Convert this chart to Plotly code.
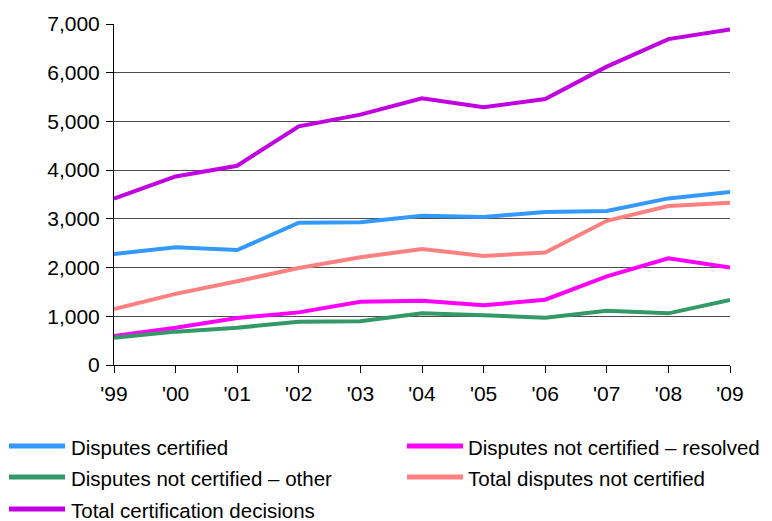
"""Certification decisions line chart."""

import plotly.graph_objects as go

years = ["'99", "'00", "'01", "'02", "'03", "'04", "'05", "'06", "'07", "'08", "'09"]

disputes_certified = [2280, 2415, 2360, 2920, 2930, 3065, 3040, 3140, 3160, 3420, 3550]
not_certified_resolved = [595, 765, 965, 1080, 1300, 1320, 1225, 1340, 1820, 2190, 2000]
not_certified_other = [560, 685, 765, 890, 900, 1060, 1020, 970, 1115, 1060, 1335]
total_not_certified = [1150, 1460, 1720, 1990, 2210, 2380, 2240, 2310, 2960, 3265, 3330]
total_decisions = [3414, 3870, 4090, 4900, 5140, 5475, 5290, 5460, 6125, 6690, 6890]

series = [
    ("Disputes certified", disputes_certified, "#3399ff"),
    ("Disputes not certified \u2013 resolved", not_certified_resolved, "#ff00ff"),
    ("Disputes not certified \u2013 other", not_certified_other, "#339966"),
    ("Total disputes not certified", total_not_certified, "#ff8080"),
    ("Total certification decisions", total_decisions, "#c000e0"),
]

# the page body keeps its 8px margin, so the figure is shrunk to fit the window
PAGE_PAD = 8
W, H = 772, 521
PLOT_L, PLOT_R, PLOT_T, PLOT_B = 114, 730, 24, 365


def px_x(x):
    return (x - PLOT_L) / (PLOT_R - PLOT_L)


def px_y(y):
    return (PLOT_B - y) / (PLOT_B - PLOT_T)


fig = go.Figure()
for name, values, color in series:
    fig.add_trace(go.Scatter(x=years, y=values, name=name, mode="lines",
                             line=dict(color=color, width=4), showlegend=False))

# legend drawn by hand: two columns, rows ~32px apart
legend_cols = [(9, 65, 69), (407, 463, 466)]
legend_rows = [446, 477, 509]
for i, (name, _, color) in enumerate(series):
    x0, x1, xt = legend_cols[i % 2]
    y = legend_rows[i // 2]
    fig.add_shape(type="line", xref="paper", yref="paper",
                  x0=px_x(x0), x1=px_x(x1), y0=px_y(y), y1=px_y(y),
                  line=dict(color=color, width=5))
    fig.add_annotation(text=name, xref="paper", yref="paper", x=px_x(xt), y=px_y(y + 1),
                       xanchor="left", yanchor="middle", showarrow=False,
                       font=dict(size=20.5, color="black"))

fig.update_layout(
    width=W - PAGE_PAD, height=H - PAGE_PAD,
    margin=dict(l=PLOT_L - PAGE_PAD, r=W - PLOT_R, t=PLOT_T - PAGE_PAD, b=H - PLOT_B,
                autoexpand=False),
    plot_bgcolor="white", paper_bgcolor="white",
    font=dict(family="Liberation Sans, Arial, sans-serif", size=21, color="black"),
    showlegend=False,
)
fig.update_xaxes(type="category", range=[0, 10], showline=True, linecolor="black",
                 linewidth=1, ticks="outside", ticklen=7, tickcolor="black",
                 showgrid=False, zeroline=False, automargin=False, ticklabelstandoff=3)
fig.update_yaxes(range=[0, 7000], dtick=1000, tickformat=",", showline=True,
                 linecolor="black", linewidth=1, ticks="outside", ticklen=7,
                 tickcolor="black", showgrid=True, gridcolor="#4d4d4d",
                 gridwidth=1, zeroline=False, ticklabelstandoff=2, automargin=False)

fig.write_html("out.html")
